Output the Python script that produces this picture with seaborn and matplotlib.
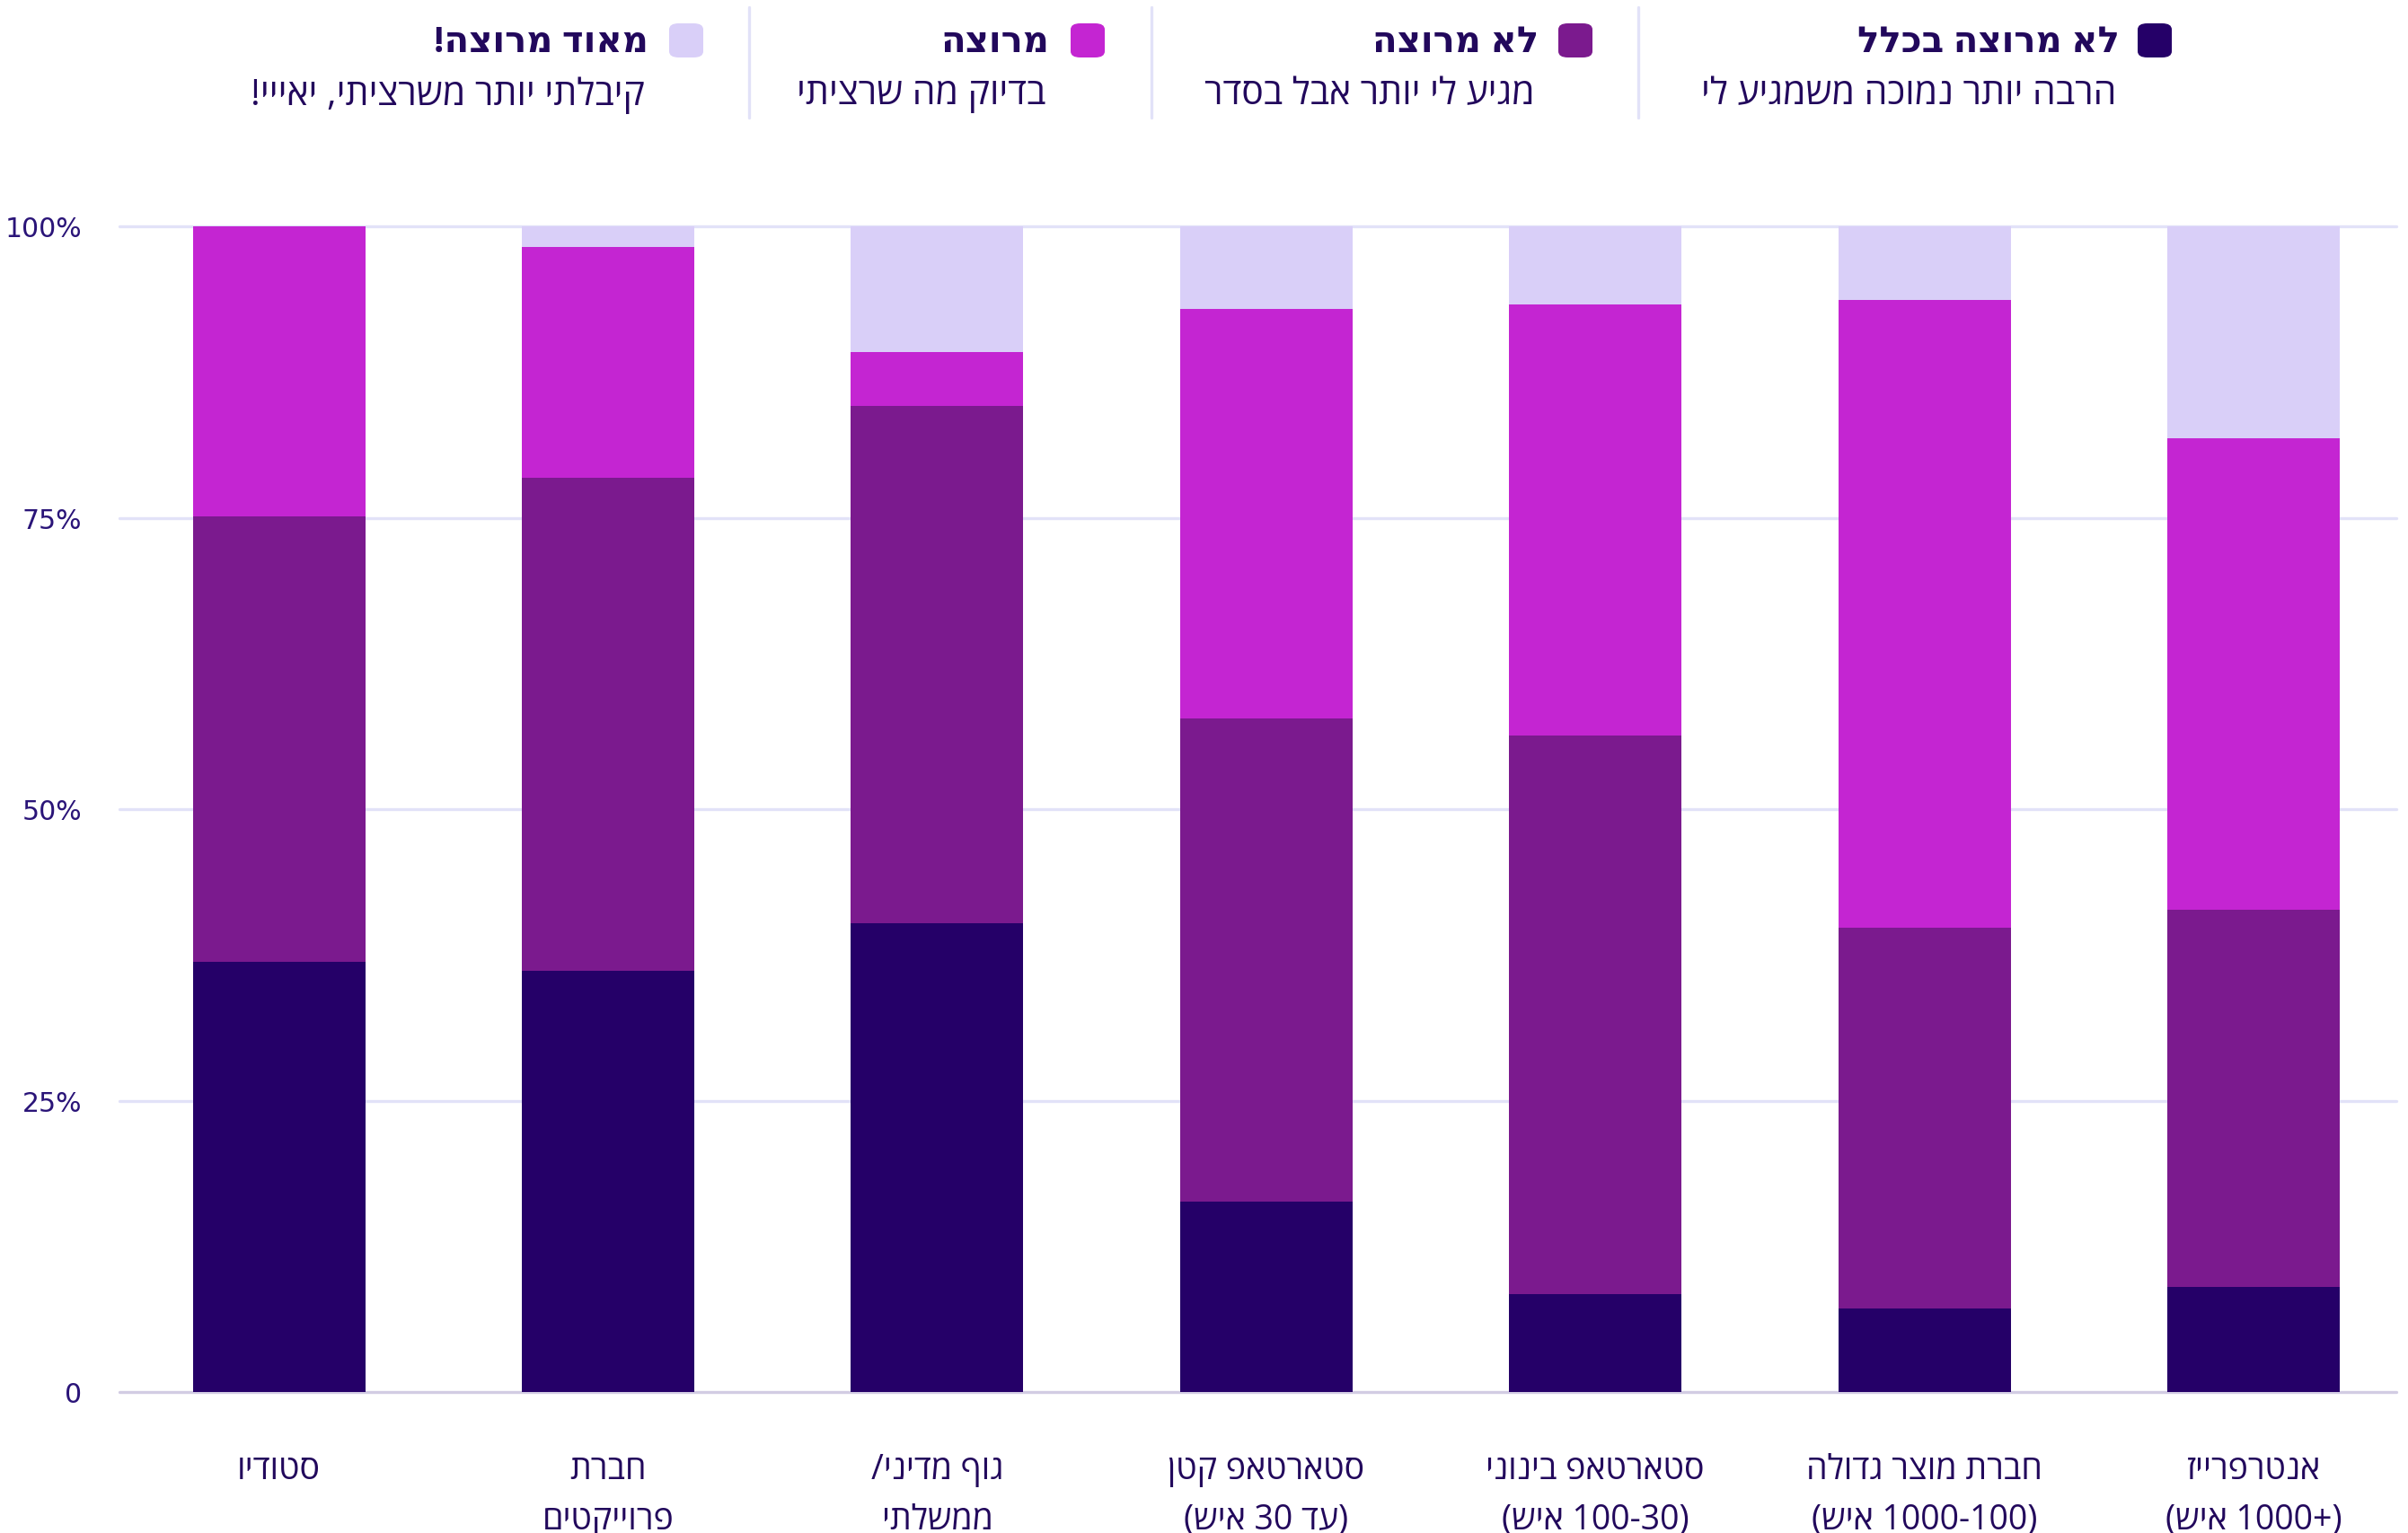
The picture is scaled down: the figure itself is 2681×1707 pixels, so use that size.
import re
import matplotlib
matplotlib.use("Agg")
import matplotlib.pyplot as plt
from matplotlib.patches import FancyBboxPatch
from matplotlib.lines import Line2D
import numpy as np
import pandas as pd
import seaborn as sns

# data (percent of respondents per company type)
categories = [
    "סטודיו",
    "חברת\nפרוייקטים",
    "גוף מדיני/\nממשלתי",
    "סטארטאפ קטן\n(עד 30 איש)",
    "סטארטאפ בינוני\n(100-30 איש)",
    "חברת מוצר גדולה\n(1000-100 איש)",
    "אנטרפרייז\n(1000+ איש)",
]
very_unhappy = [36.9, 36.1, 40.2, 16.3, 8.4, 7.2, 9.0]
unhappy = [38.2, 42.3, 44.4, 41.5, 47.9, 32.6, 32.4]
happy = [24.9, 19.8, 4.6, 35.1, 37.0, 53.9, 40.4]
very_happy = [0.0, 1.8, 10.8, 7.1, 6.7, 6.3, 18.2]

series_titles = ["לא מרוצה בכלל", "לא מרוצה", "מרוצה", "מאוד מרוצה!"]
series_notes = ["הרבה יותר נמוכה משמגיע לי", "מגיע לי יותר אבל בסדר",
                "בדיוק מה שרציתי", "קיבלתי יותר משרציתי, יאייי!"]
colors = ["#250068", "#7b1a8e", "#c425d2", "#d9cff8"]

y_ticks = [0, 25, 50, 75, 100]
y_tick_labels = ["0", "25%", "50%", "75%", "100%"]

TEXT = "#22085c"
GRID = "#e2e2f8"


def rtl(s):
    # matplotlib has no bidi support: turn logical hebrew into visual order
    out = []
    for line in s.split("\n"):
        r = line[::-1]
        r = re.sub(r"[0-9][0-9+\-]*|[+\-][0-9][0-9+\-]*", lambda m: m.group(0)[::-1], r)
        r = r.translate(str.maketrans("()", ")("))
        out.append(r)
    return "\n".join(out)


sns.set_theme(style="white")
plt.rcParams["font.family"] = ["Open Sans", "DejaVu Sans"]

W, H = 2681, 1708
fig = plt.figure(figsize=(W / 100, H / 100), dpi=100)
ax = fig.add_axes([133 / W, 1 - 1551 / H, (2668 - 133) / W, (1551 - 253) / H])

df = pd.DataFrame({
    "cat": [rtl(c) for c in categories],
    "s1": very_unhappy, "s2": unhappy, "s3": happy, "s4": very_happy,
})
df["c1"] = df["s1"]
df["c2"] = df["c1"] + df["s2"]
df["c3"] = df["c2"] + df["s3"]
df["c4"] = df["c3"] + df["s4"]

# stacked bars: draw cumulative totals, tallest first
for col, color in zip(["c4", "c3", "c2", "c1"], colors[::-1]):
    sns.barplot(data=df, x="cat", y=col, color=color, saturation=1,
                width=0.524, errorbar=None, ax=ax, zorder=3, linewidth=0)

for v in y_ticks:
    ax.axhline(v, color="#d2cce3" if v == 0 else GRID, lw=2.4, zorder=0.5, clip_on=False)

ax.set_xlim(-0.485, 6.434)
ax.set_ylim(0, 100)
ax.set_yticks(y_ticks)
ax.set_yticklabels(y_tick_labels, family="DejaVu Sans", fontsize=21.5, color="#2a1478")
ax.tick_params(axis="y", length=0, pad=30)
ax.tick_params(axis="x", length=0, pad=48)
for lab in ax.get_xticklabels():
    lab.set_fontsize(27)
    lab.set_color(TEXT)
    lab.set_linespacing(1.62)
ax.set_xlabel("")
ax.set_ylabel("")
ax.grid(False)
sns.despine(ax=ax, left=True, bottom=True)

# legend row across the top (right to left)
marker_x = [2399, 1754, 1211, 764]
text_x = [2360, 1713, 1168, 722]
for mx, tx, title, note, color in zip(marker_x, text_x, series_titles, series_notes, colors):
    box = FancyBboxPatch(((mx - 19) / W, 1 - (46 + 19) / H), 38 / W, 38 / H,
                         boxstyle="round,pad=0,rounding_size=0.004",
                         transform=fig.transFigure, facecolor=color, edgecolor="none")
    fig.patches.append(box)
    fig.text(tx / W, 1 - 48 / H, rtl(title), ha="right", va="center",
             fontsize=29, fontweight="bold", color=TEXT)
    fig.text((tx - 4) / W, 1 - 106 / H, rtl(note), ha="right", va="center",
             fontsize=29.5, color=TEXT)

for sx in [1824, 1282, 834]:
    fig.add_artist(Line2D([sx / W, sx / W], [1 - 9 / H, 1 - 132 / H],
                          transform=fig.transFigure, color=GRID, lw=2.4))

fig.savefig("out.png", dpi=100)
